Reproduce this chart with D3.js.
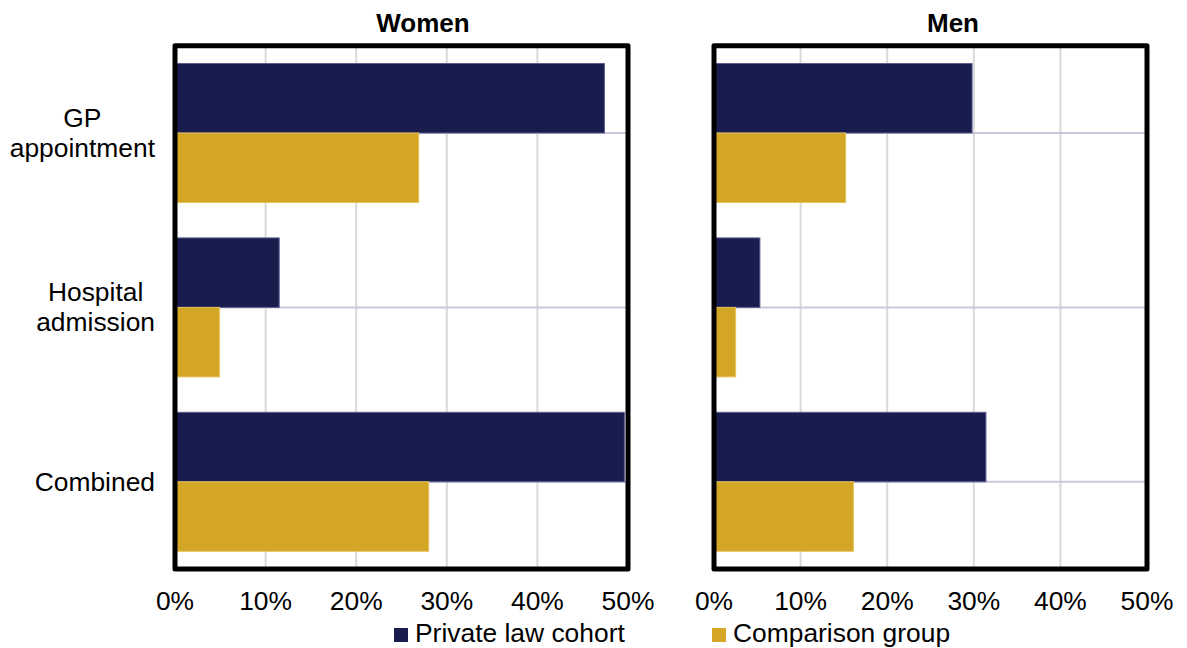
<!DOCTYPE html>
<html><head><meta charset="utf-8">
<script src="https://cdn.jsdelivr.net/npm/d3@7"></script>
<style>body{margin:0;background:#fff}svg{display:block;font-family:"Liberation Sans",Arial,Helvetica,sans-serif}</style>
</head><body><svg id="c" width="1187" height="648"></svg>
<script>
const categories = ["GP appointment", "Hospital admission", "Combined"];
const categoryLines = [["GP", "appointment"], ["Hospital", "admission"], ["Combined"]];
const panelTitles = ["Women", "Men"];
const seriesNames = ["Private law cohort", "Comparison group"];
const womenPrivate = [47.4, 11.5, 49.6];
const womenComparison = [26.9, 4.9, 28.0];
const menPrivate = [29.8, 5.3, 31.4];
const menComparison = [15.2, 2.5, 16.1];
const tickValues = [0, 10, 20, 30, 40, 50];
const tickLabels = ["0%", "10%", "20%", "30%", "40%", "50%"];

(function () {
const colors = ["#181d4e", "#d4a626"];
const edgeColors = ["#5c6090", "#e6c25a"];
const fs = 26.4;
const svg = d3.select("#c");
const plotTop = 45.8, plotBottom = 569;

const panels = [
  {title: panelTitles[0], x0: 175, x1: 628, titleX: 423, series: [womenPrivate, womenComparison]},
  {title: panelTitles[1], x0: 714, x1: 1147, titleX: 953, series: [menPrivate, menComparison]}
];

const y = d3.scaleBand().domain(categories).range([plotTop, plotBottom]).paddingInner(0.203).paddingOuter(0.1015);
const ySub = d3.scaleBand().domain([0, 1]).range([0, y.bandwidth()]);

panels.forEach(p => {
  const x = d3.scaleLinear().domain([0, 50]).range([p.x0, p.x1]);
  const g = svg.append("g");
  g.selectAll("line.vg").data(tickValues.filter(v => v > 0 && v < 50)).join("line")
    .attr("x1", d => x(d)).attr("x2", d => x(d)).attr("y1", plotTop).attr("y2", plotBottom)
    .attr("stroke", "#d9d9d9").attr("stroke-width", 2);
  g.selectAll("line.hg").data(categories).join("line")
    .attr("x1", p.x0).attr("x2", p.x1)
    .attr("y1", d => y(d) + y.bandwidth() / 2).attr("y2", d => y(d) + y.bandwidth() / 2)
    .attr("stroke", "#c9c9dc").attr("stroke-width", 2);
  p.series.forEach((vals, si) => {
    g.selectAll("rect.s" + si).data(vals).join("rect")
      .attr("class", "s" + si)
      .attr("x", x(0))
      .attr("y", (d, i) => y(categories[i]) + ySub(si))
      .attr("width", d => x(d) - x(0))
      .attr("height", ySub.bandwidth())
      .attr("fill", colors[si])
      .attr("stroke", edgeColors[si]).attr("stroke-width", 1);
  });
  g.append("rect").attr("x", p.x0).attr("y", plotTop).attr("width", p.x1 - p.x0).attr("height", plotBottom - plotTop)
    .attr("fill", "none").attr("stroke", "#000").attr("stroke-width", 5).attr("stroke-linejoin", "round");
  g.selectAll("text.tk").data(tickValues).join("text")
    .attr("class", "tk")
    .attr("x", d => x(d)).attr("y", 610).attr("text-anchor", "middle")
    .attr("font-size", fs).attr("fill", "#000")
    .text((d, i) => tickLabels[i]);
  g.append("text").attr("x", p.titleX).attr("y", 32).attr("text-anchor", "middle")
    .attr("font-size", 26).attr("font-weight", "bold").attr("fill", "#000").text(p.title);
});

const labelRight = 155;
categories.forEach((c, i) => {
  const lines = categoryLines[i];
  const cy = y(c) + y.bandwidth() / 2;
  const t = svg.append("text").attr("font-size", fs).attr("fill", "#000").attr("text-anchor", "middle");
  const spans = lines.map(ln => t.append("tspan").text(ln));
  const maxW = d3.max(spans, s => s.node().getComputedTextLength());
  const cx = labelRight - maxW / 2;
  const firstBase = lines.length === 1 ? cy + 9 : cy - 6;
  spans.forEach((s, j) => s.attr("x", cx).attr("y", firstBase + j * 30));
});

const legendItems = [{x: 394, tx: 415}, {x: 712, tx: 733}];
seriesNames.forEach((n, i) => {
  svg.append("rect").attr("x", legendItems[i].x).attr("y", 628).attr("width", 14).attr("height", 14).attr("fill", colors[i]);
  svg.append("text").attr("x", legendItems[i].tx).attr("y", 642).attr("font-size", fs).attr("fill", "#000").text(n);
});
})();
</script></body></html>
